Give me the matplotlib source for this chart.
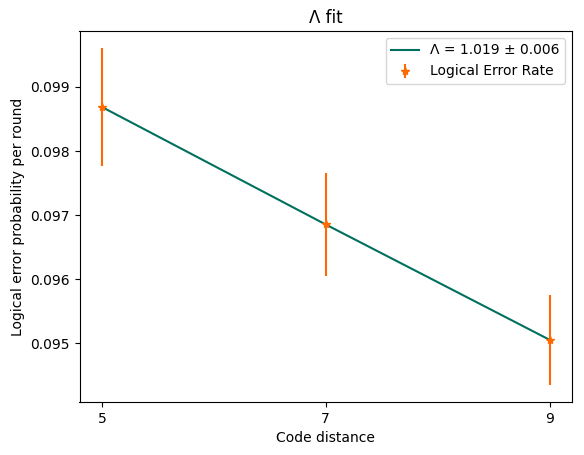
import numpy as np
import matplotlib.pyplot as plt

# --- data ---
distances = [5, 7, 9]
error_rates = [0.098686, 0.096856, 0.095052]
error_bars = [0.000924, 0.000806, 0.000706]

lambda_value = 1.019
lambda_std = 0.006

# exponential fit: log(eps) linear in d
d = np.array(distances, dtype=float)
eps = np.array(error_rates)
slope, intercept = np.polyfit(d, np.log(eps), 1)
fit_vals = np.exp(intercept + slope * d)

fig = plt.figure(figsize=(5.84, 4.55), dpi=100)
ax = fig.add_axes([79.5 / 584, 1 - 402 / 455, (572 - 79.5) / 584, (402 - 31) / 455])

ax.plot(d, fit_vals, color='#00705e',
        label=f'Λ = {lambda_value:.3f} ± {lambda_std:.3f}')
ax.errorbar(distances, error_rates, yerr=error_bars, fmt='*', color='#ff6a00',
            label='Logical Error Rate')

ax.set_xticks(distances)
ax.set_xlabel('Code distance')
ax.set_ylabel('Logical error probability per round')
ax.set_title('Λ fit')
ax.legend(loc='upper right')

fig.savefig('out.png', dpi=100)
